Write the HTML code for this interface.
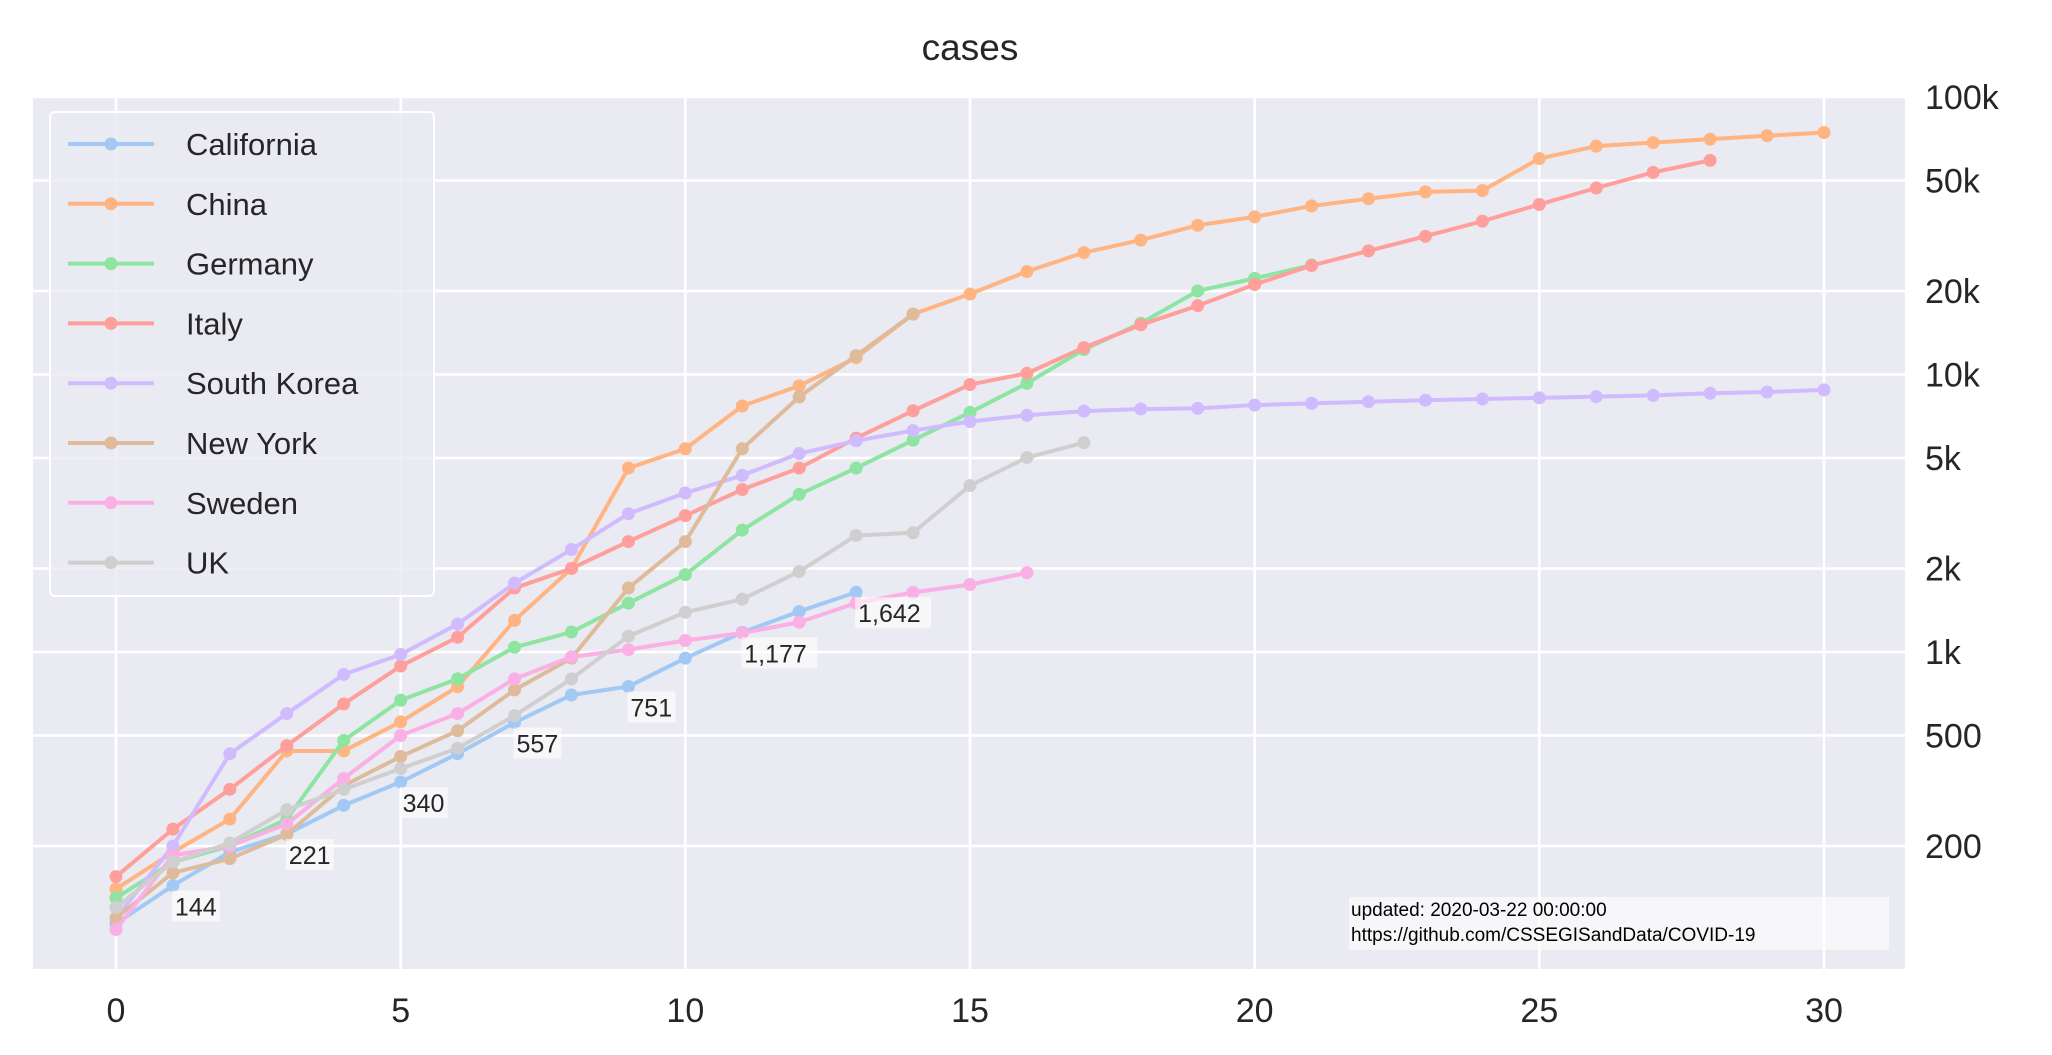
<!DOCTYPE html>
<html><head><meta charset="utf-8"><style>
html,body{margin:0;padding:0;background:#fff;}
svg{display:block;font-family:"Liberation Sans",Arial,sans-serif;}
</style></head><body>
<svg id="chart" width="2052" height="1055" viewBox="0 0 2052 1055" xmlns="http://www.w3.org/2000/svg">
<rect x="0" y="0" width="2052" height="1055" fill="#ffffff"/>
<text x="970" y="60" font-size="37" text-anchor="middle" fill="#262626">cases</text>
<rect x="33" y="96" width="1872" height="873" fill="#eaeaf2"/>
<g id="grid"></g>
<g id="series"></g>
<g id="annots"></g>
<g id="legend"></g>
<g>
<rect x="1349" y="897" width="540" height="53" fill="#ffffff" fill-opacity="0.6"/>
<text x="1351" y="916" font-size="19" fill="#000">updated: 2020-03-22 00:00:00</text>
<text x="1351" y="941" font-size="19" fill="#000">https://github.com/CSSEGISandData/COVID-19</text>
</g>
</svg>
<script>
const xTicks=[0,5,10,15,20,25,30];
const yTicks=[200,500,1000,2000,5000,10000,20000,50000,100000];
const yTickLabels=["200","500","1k","2k","5k","10k","20k","50k","100k"];
const seriesNames=["California","China","Germany","Italy","South Korea","New York","Sweden","UK"];
const california=[105,144,190,221,280,340,430,557,700,751,950,1177,1400,1642];
const china=[140,190,250,440,440,560,750,1300,2000,4600,5400,7700,9100,11500,16500,19500,23500,27500,30500,34500,37000,40500,43000,45500,46000,60000,66500,68500,70500,72500,74500];
const germany=[130,175,200,250,480,670,800,1040,1180,1500,1900,2750,3700,4600,5800,7300,9300,12300,15300,20000,22200,24800];
const italy=[155,230,320,460,650,890,1130,1700,2000,2500,3100,3850,4600,5900,7400,9200,10100,12500,15100,17700,21100,24700,27900,31500,35700,41000,47000,53500,59100];
const southKorea=[110,200,430,600,830,980,1260,1770,2340,3150,3740,4330,5190,5770,6280,6770,7130,7380,7510,7550,7760,7870,7980,8080,8160,8240,8320,8410,8560,8650,8800];
const newYork=[110,160,180,220,330,420,520,730,950,1700,2500,5400,8300,11700,16500];
const sweden=[100,185,200,240,350,500,600,800,960,1020,1100,1170,1280,1500,1640,1750,1930];
const uk=[120,175,205,270,320,380,450,590,800,1140,1390,1550,1950,2630,2690,3980,5020,5680];
const allSeries=[california,china,germany,italy,southKorea,newYork,sweden,uk];
const colors=["#a1c9f4","#ffb482","#8de5a1","#ff9f9b","#d0bbff","#debb9b","#fab0e4","#cfcfcf"];
const annotIdx=[1,3,5,7,9,11,13];

const NS="http://www.w3.org/2000/svg";
const X=v=>116+v*(1824-116)/30;
const Y=v=>652-(Math.log10(v)-3)*277.5;
function mk(tag,attrs,parent){const e=document.createElementNS(NS,tag);for(const k in attrs)e.setAttribute(k,attrs[k]);parent.appendChild(e);return e;}
const grid=document.getElementById('grid');
xTicks.forEach(t=>{
  const l=mk('line',{x1:X(t),x2:X(t),y1:96,y2:969,stroke:'#fff','stroke-width':2.5},grid);
  
  
  const tx=mk('text',{x:X(t),y:1022,'font-size':34,'text-anchor':'middle',fill:'#262626'},grid);
  tx.textContent=t;
  
  
});
yTicks.forEach((t,i)=>{
  const l=mk('line',{x1:33,x2:1905,y1:Y(t),y2:Y(t),stroke:'#fff','stroke-width':2.5},grid);
  
  
  const tx=mk('text',{x:1925,y:Y(t)+12,'font-size':34,fill:'#262626'},grid);
  tx.textContent=yTickLabels[i];
  
  
});
const sg=document.getElementById('series');
allSeries.forEach((s,si)=>{
  const g=mk('g',{},sg);
  
  
  mk('polyline',{points:s.map((v,i)=>X(i)+','+Y(v)).join(' '),fill:'none',stroke:colors[si],'stroke-width':4,'stroke-linejoin':'round'},g);
  s.forEach((v,i)=>{
    const c=mk('circle',{cx:X(i),cy:Y(v),r:6.5,fill:colors[si]},g);
    
    
  });
});
const ag=document.getElementById('annots');
annotIdx.forEach(i=>{
  const v=california[i];
  const txt=v.toLocaleString('en-US');
  const w=txt.length*14+6;
  const g=mk('g',{},ag);
  
  
  mk('rect',{x:X(i)-1,y:Y(v)+5,width:w,height:31,fill:'#fff','fill-opacity':0.6},g);
  const t=mk('text',{x:X(i)+2,y:Y(v)+30,'font-size':25,fill:'#262626'},g);
  t.textContent=txt;
});
const lg=document.getElementById('legend');
const lb=mk('rect',{x:50,y:112,width:384,height:484,rx:5,fill:'#eaeaf2','fill-opacity':0.8,stroke:'#fff','stroke-width':2},lg);


seriesNames.forEach((n,i)=>{
  const y=144+i*59.8;
  const g=mk('g',{},lg);
  
  
  mk('line',{x1:68,x2:154,y1:y,y2:y,stroke:colors[i],'stroke-width':4},g);
  mk('circle',{cx:111,cy:y,r:6.5,fill:colors[i]},g);
  const t=mk('text',{x:186,y:y+11,'font-size':31,fill:'#262626'},g);
  t.textContent=n;
});
</script>
</body></html>
